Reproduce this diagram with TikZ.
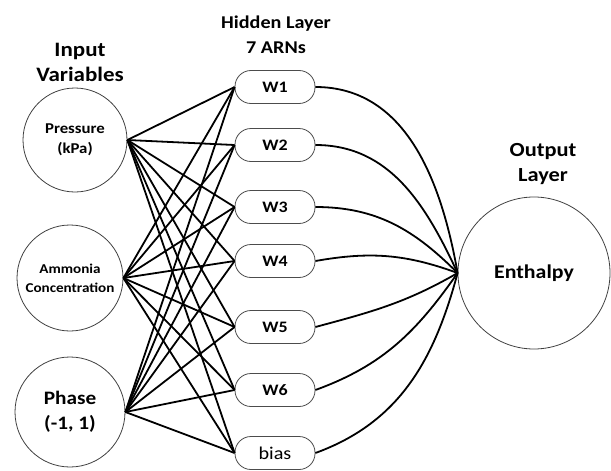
\documentclass[tikz,border=0pt]{standalone}
\usepackage{fontspec}
\setmainfont{Carlito}[FakeStretch=1.12]
\begin{document}
\begin{tikzpicture}[x=1pt,y=-1pt,
  inp/.style={circle,draw=black!75,line width=0.8pt,inner sep=0pt,align=center,font=\bfseries},
  hid/.style={draw=black!70,line width=0.8pt,rounded corners=16pt,minimum width=80pt,minimum height=33pt,inner sep=0pt,font=\bfseries\fontsize{16}{18}\selectfont},
  ttl/.style={align=center,font=\bfseries\fontsize{18}{25}\selectfont},
  wire/.style={line width=1.8pt,black},
  arc/.style={line width=1.8pt,black}]
\useasboundingbox (0,0) rectangle (611,471);
% titles
\node[ttl,font=\bfseries\fontsize{20.5}{25}\selectfont] (tin) at (80,62) {Input\\Variables};
\node[ttl] (thid) at (276,35) {Hidden Layer\\7 ARNs};
\node[ttl,font=\bfseries\fontsize{20}{25}\selectfont] (tout) at (543,164) {Output\\Layer};
% inputs
\node[inp,minimum size=104pt,font=\bfseries\fontsize{15}{20}\selectfont] (p) at (75,140) {Pressure\\(kPa)};
\node[inp,minimum size=106pt,font=\bfseries\fontsize{13.5}{19}\selectfont] (a) at (70,278) {Ammonia\\Concentration};
\node[inp,minimum size=110pt,font=\bfseries\fontsize{19}{25}\selectfont] (ph) at (70,412) {Phase\\(-1, 1)};
% hidden
\node[hid] (w1) at (275,87) {W1};
\node[hid] (w2) at (275,145) {W2};
\node[hid] (w3) at (275,207) {W3};
\node[hid] (w4) at (275,261) {W4};
\node[hid] (w5) at (275,327) {W5};
\node[hid] (w6) at (275,390) {W6};
\node[hid,font=\fontsize{18}{20}\selectfont] (wb) at (275,453) {bias};
% output
\node[circle,draw=black!75,line width=0.8pt,minimum size=152pt,inner sep=0pt,font=\bfseries\fontsize{19.5}{20}\selectfont] (o) at (534,273) {Enthalpy};
% wires
\foreach \i in {p,a,ph}{
  \foreach \h in {w1,w2,w3,w4,w5,w6,wb}{
    \draw[wire] (\i.east) -- (\h.west);
  }
}
\draw[arc] (w1.east) to[out=0,in=100] (o.west);
\draw[arc] (w2.east) to[out=0,in=115] (o.west);
\draw[arc] (w3.east) to[out=0,in=135] (o.west);
\draw[arc] (w4.east) to[out=10,in=160] (o.west);
\draw[arc] (w5.east) to[out=15,in=-150] (o.west);
\draw[arc] (w6.east) to[out=20,in=-125] (o.west);
\draw[arc] (wb.east) to[out=20,in=-105] (o.west);
\end{tikzpicture}
\end{document}
